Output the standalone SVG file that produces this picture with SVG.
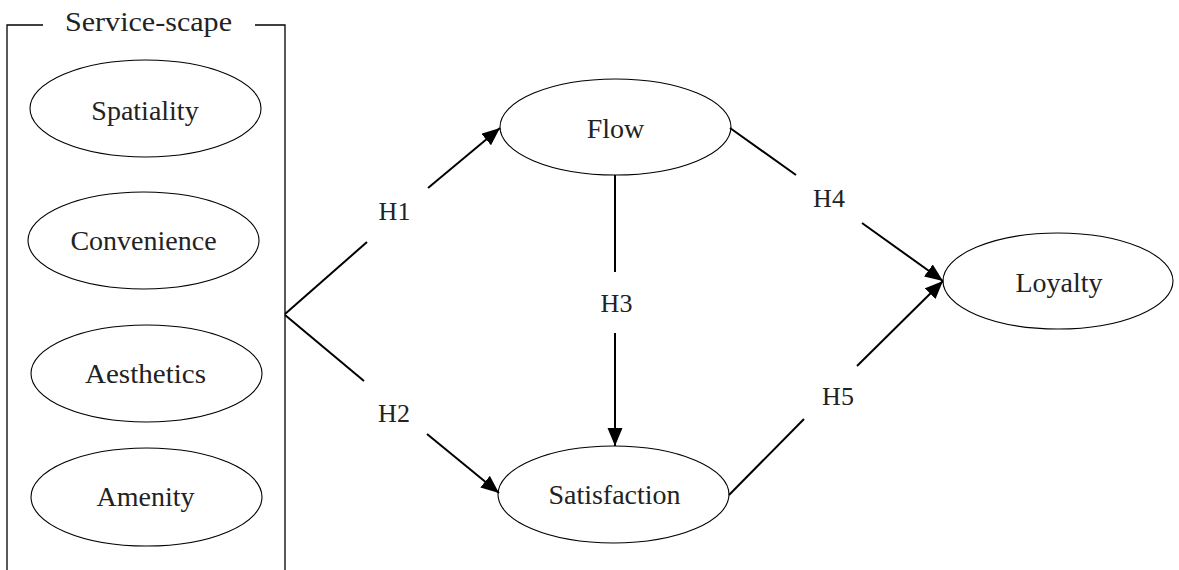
<svg xmlns="http://www.w3.org/2000/svg" width="1179" height="570" viewBox="0 0 1179 570">
<style>
.node ellipse{fill:#fff;stroke:#000;stroke-width:1.1}
text{font-family:"Liberation Serif","DejaVu Serif",serif;font-size:28px;fill:#222;text-anchor:middle}
.lbl{font-size:26px}
.edge{stroke:#000;stroke-width:2;fill:none}
.frame{stroke:#000;stroke-width:1.3;fill:none}
</style>
<defs>
<marker id="arr" markerUnits="userSpaceOnUse" markerWidth="20" markerHeight="16" refX="18" refY="7.5" orient="auto">
<path d="M0,0 L18,7.5 L0,15 z" fill="#000"/>
</marker>
</defs>
<rect width="1179" height="570" fill="#fff"/>
<g id="service-scape">
<path class="frame" d="M7,570 L7,25 L43,25 M255,25 L285,25 L285,570"/>
<text x="148.5" y="31" textLength="167" lengthAdjust="spacingAndGlyphs">Service-scape</text>
</g>
<g id="spatiality" class="node"><ellipse cx="145.5" cy="108.5" rx="115.5" ry="48.5"/><text x="145" y="120">Spatiality</text></g>
<g id="convenience" class="node"><ellipse cx="143.5" cy="240.5" rx="115.5" ry="48.5"/><text x="143.5" y="250">Convenience</text></g>
<g id="aesthetics" class="node"><ellipse cx="146.5" cy="373.5" rx="115.5" ry="48.5"/><text x="145.5" y="383" textLength="121" lengthAdjust="spacingAndGlyphs">Aesthetics</text></g>
<g id="amenity" class="node"><ellipse cx="146.5" cy="497" rx="115.5" ry="49"/><text x="145.5" y="506">Amenity</text></g>
<g id="flow" class="node"><ellipse cx="615.5" cy="127" rx="115.5" ry="48"/><text x="615.5" y="138">Flow</text></g>
<g id="satisfaction" class="node"><ellipse cx="613.5" cy="494.5" rx="115.5" ry="48.5"/><text x="614.5" y="504">Satisfaction</text></g>
<g id="loyalty" class="node"><ellipse cx="1058" cy="281" rx="115" ry="48"/><text x="1059" y="292">Loyalty</text></g>
<g id="connectors">
<line class="edge" x1="285" y1="314" x2="367" y2="242"/>
<line class="edge" x1="428" y1="188" x2="500" y2="128" marker-end="url(#arr)"/>
<line class="edge" x1="285" y1="315" x2="364" y2="381"/>
<line class="edge" x1="427" y1="434" x2="499" y2="493" marker-end="url(#arr)"/>
<line class="edge" x1="615" y1="175" x2="615" y2="272"/>
<line class="edge" x1="615" y1="333" x2="615" y2="446" marker-end="url(#arr)"/>
<line class="edge" x1="730" y1="128" x2="796" y2="175"/>
<line class="edge" x1="862" y1="223" x2="943" y2="281" marker-end="url(#arr)"/>
<line class="edge" x1="729" y1="495" x2="804" y2="419"/>
<line class="edge" x1="857" y1="366" x2="943" y2="281" marker-end="url(#arr)"/>
<text class="lbl" x="394.5" y="220">H1</text>
<text class="lbl" x="394" y="422">H2</text>
<text class="lbl" x="616.5" y="312">H3</text>
<text class="lbl" x="829" y="207">H4</text>
<text class="lbl" x="838" y="405">H5</text>
</g>
</svg>
